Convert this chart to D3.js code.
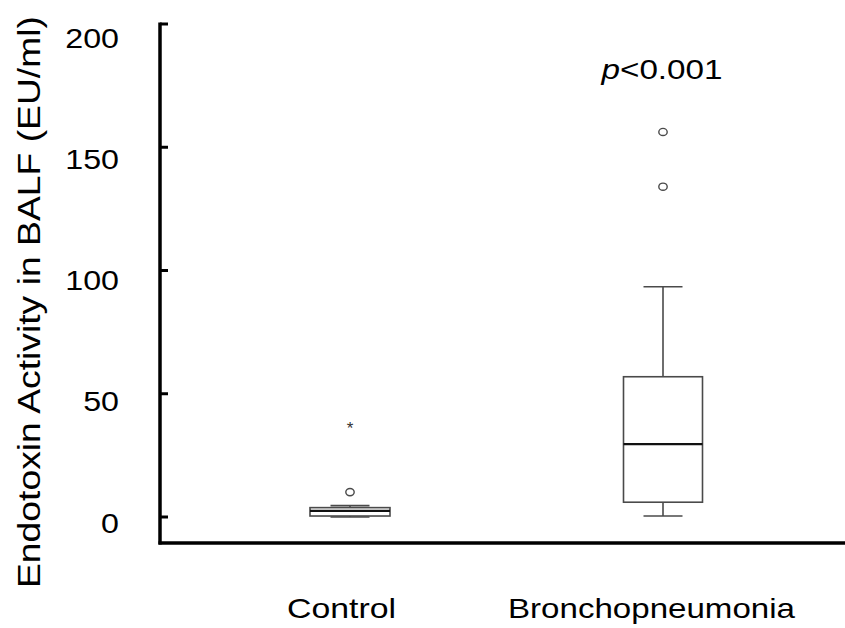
<!DOCTYPE html>
<html>
<head>
<meta charset="utf-8">
<script src="https://cdn.jsdelivr.net/npm/d3@7"></script>
<style>
  html, body { margin: 0; padding: 0; background: #fff; }
  svg { display: block; font-family: "Liberation Sans", Arial, sans-serif; }
</style>
</head>
<body>
<svg id="chart" width="845" height="628"></svg>
<script>
// ---- data ----
const categories = ["Control", "Bronchopneumonia"];
const whiskerLow  = [0.0, 0.4];
const q1          = [0.4, 6.0];
const medians     = [2.5, 29.6];
const q3          = [3.8, 56.9];
const whiskerHigh = [4.6, 93.4];
const outliers    = [[10.1], [134.0, 156.2]];
const extremes    = [[36.4], []];
const yTicks      = [0, 50, 100, 150, 200];
const yTitle      = "Endotoxin Activity in BALF (EU/ml)";
const pLabel      = "0.001";

// ---- layout ----
const svg = d3.select("#chart");
const y = d3.scaleLinear().domain([0, 200]).range([517, 24]);
const yLab = d3.scaleLinear().domain([0, 200]).range([523, 38]);
const x = d3.scalePoint().domain(categories).range([350, 663]);
const axisX = 160, axisBottom = 543;
const boxW = [80, 79], capW = [39, 39];

// axes
svg.append("line").attr("x1", axisX).attr("x2", axisX)
  .attr("y1", y(200) - 1.5).attr("y2", axisBottom + 1.5)
  .attr("stroke", "#000").attr("stroke-width", 3.5);
svg.append("line").attr("x1", axisX - 1.5).attr("x2", 845)
  .attr("y1", axisBottom).attr("y2", axisBottom)
  .attr("stroke", "#000").attr("stroke-width", 3.5);
svg.selectAll(".ytick").data(yTicks).enter().append("line")
  .attr("x1", axisX).attr("x2", axisX + 8)
  .attr("y1", d => y(d)).attr("y2", d => y(d))
  .attr("stroke", "#000").attr("stroke-width", 3);
svg.selectAll(".ylab").data(yTicks).enter().append("text")
  .attr("transform", d => `translate(119,${yLab(d)}) scale(1.15,1)`)
  .attr("text-anchor", "end").attr("dominant-baseline", "central")
  .attr("font-size", 28).attr("fill", "#000")
  .text(d => d);

// y title
svg.append("text")
  .attr("transform", "translate(40,302) rotate(-90)")
  .attr("text-anchor", "middle")
  .attr("font-size", 31)
  .attr("textLength", 572).attr("lengthAdjust", "spacingAndGlyphs")
  .text(yTitle);

// category labels
const catLen = [109, 287];
svg.selectAll(".cat").data(categories).enter().append("text")
  .attr("x", d => x(d) - (d === "Control" ? 8.5 : 11.5))
  .attr("y", 618)
  .attr("text-anchor", "middle")
  .attr("font-size", 28)
  .attr("textLength", (d, i) => catLen[i]).attr("lengthAdjust", "spacingAndGlyphs")
  .text(d => d);

// boxes
const stroke = "#4a4a4a";
categories.forEach((c, i) => {
  const cx = x(c);
  const g = svg.append("g");
  // whiskers
  g.append("line").attr("x1", cx).attr("x2", cx)
    .attr("y1", y(q3[i])).attr("y2", y(whiskerHigh[i]))
    .attr("stroke", stroke).attr("stroke-width", 1.6);
  g.append("line").attr("x1", cx).attr("x2", cx)
    .attr("y1", y(q1[i])).attr("y2", y(whiskerLow[i]))
    .attr("stroke", stroke).attr("stroke-width", 1.6);
  [whiskerHigh[i], whiskerLow[i]].forEach(v => {
    g.append("line").attr("x1", cx - capW[i] / 2).attr("x2", cx + capW[i] / 2)
      .attr("y1", y(v)).attr("y2", y(v))
      .attr("stroke", stroke).attr("stroke-width", 1.6);
  });
  // box
  g.append("rect")
    .attr("x", cx - boxW[i] / 2).attr("width", boxW[i])
    .attr("y", y(q3[i])).attr("height", y(q1[i]) - y(q3[i]))
    .attr("fill", "#fff").attr("stroke", stroke).attr("stroke-width", 1.6);
  // median
  g.append("line").attr("x1", cx - boxW[i] / 2).attr("x2", cx + boxW[i] / 2)
    .attr("y1", y(medians[i])).attr("y2", y(medians[i]))
    .attr("stroke", "#111").attr("stroke-width", 2.2);
  // outliers
  g.selectAll(".out").data(outliers[i]).enter().append("ellipse")
    .attr("cx", cx).attr("cy", d => y(d)).attr("rx", 4.2).attr("ry", 3.6)
    .attr("fill", "#fff").attr("stroke", stroke).attr("stroke-width", 1.4);
  g.selectAll(".ext").data(extremes[i]).enter().append("text")
    .attr("x", cx).attr("y", d => y(d) + 7)
    .attr("text-anchor", "middle").attr("font-size", 17).attr("fill", "#333")
    .text("*");
});

// p-value
const pt = svg.append("text")
  .attr("x", 662).attr("y", 79)
  .attr("text-anchor", "middle").attr("font-size", 27)
  .attr("textLength", 121).attr("lengthAdjust", "spacingAndGlyphs");
pt.append("tspan").attr("font-style", "italic").text("p");
pt.append("tspan").text("<" + pLabel);
</script>
</body>
</html>
